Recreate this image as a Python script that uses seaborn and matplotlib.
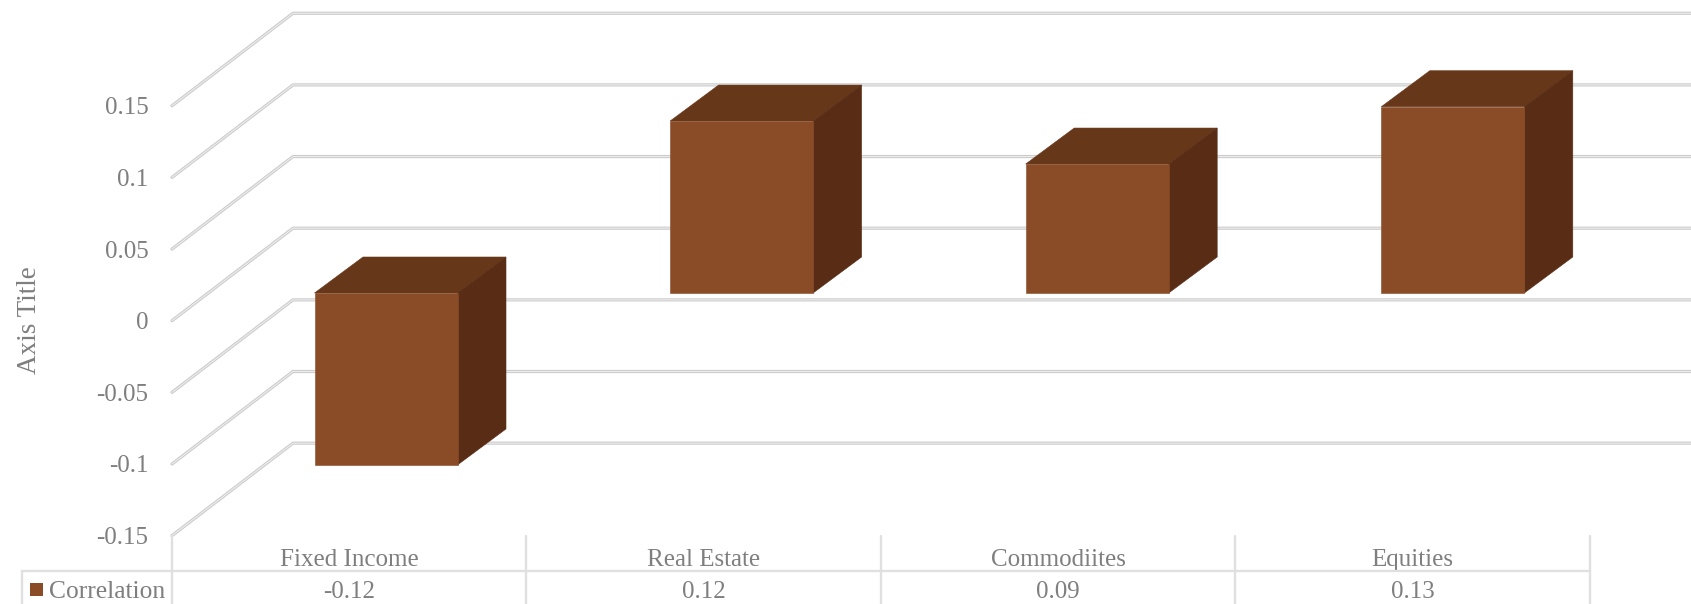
import matplotlib
matplotlib.use("Agg")
import matplotlib.pyplot as plt
from matplotlib.patches import Polygon, Rectangle
import pandas as pd
import seaborn as sns

categories = ["Fixed Income", "Real Estate", "Commodiites", "Equities"]
correlation = [-0.12, 0.12, 0.09, 0.13]
tick_values = [-0.15, -0.1, -0.05, 0, 0.05, 0.1, 0.15]
tick_labels = ["-0.15", "-0.1", "-0.05", "0", "0.05", "0.1", "0.15"]
series_name = "Correlation"
axis_title = "Axis Title"

W, H = 1691, 604
UX, UY = 354.5, 1433.0      # pixels per category / per unit of correlation
X0, Y0 = 349.0, 320.7       # pixel position of category 0 / value 0 on the front plane

FRONT, TOP, SIDE = "#8A4B27", "#67371A", "#592D15"
TEXT = "#7F7F7F"
GRID_DARK, GRID_LIGHT = "#CBCBCB", "#EDEDED"
TABLE = "#E0E0E0"


def dx(px):
    return px / UX


def dy(px):
    return px / UY


def px_x(p):
    return (p - X0) / UX


def px_y(p):
    return (Y0 - p) / UY


sns.set_theme(style="white")
plt.rcParams["font.family"] = ["Liberation Serif", "DejaVu Serif"]
FS = 18.0

fig = plt.figure(figsize=(W / 100, H / 100), dpi=100)
ax = fig.add_axes([0, 0, 1, 1])

df = pd.DataFrame({"Asset": categories, series_name: correlation})
sns.barplot(data=df, x="Asset", y=series_name, color=FRONT, saturation=1,
            width=143 / UX, ax=ax, zorder=4, linewidth=0)
ax.set_xlim(px_x(0), px_x(W))
ax.set_ylim(px_y(H), px_y(0))
ax.set_xlabel("")
ax.set_ylabel("")

# Bars stand part-way into the floor: slide the fronts back and add the two visible faces.
# Perspective spreads them a touch wider than the table columns below.
front_dx, front_dy = dx(37), dy(27.7)
bar_spread = dx(1.1)
depth_x, depth_y = dx(48.5), dy(36)
for i, (bar, value) in enumerate(zip(ax.patches, correlation)):
    bar.set_x(bar.get_x() + front_dx + i * bar_spread)
    bar.set_y(bar.get_y() + front_dy)
    bar.set_edgecolor(FRONT)
    bar.set_linewidth(0.4)
    left, right = bar.get_x(), bar.get_x() + bar.get_width()
    low = min(0, value) + front_dy
    high = max(0, value) + front_dy
    ax.add_patch(Polygon([(left, high), (right, high),
                          (right + depth_x, high + depth_y), (left + depth_x, high + depth_y)],
                         closed=True, facecolor=TOP, edgecolor=TOP, lw=0.4, zorder=3.9))
    ax.add_patch(Polygon([(right, low), (right, high),
                          (right + depth_x, high + depth_y), (right + depth_x, low + depth_y)],
                         closed=True, facecolor=SIDE, edgecolor=SIDE, lw=0.4, zorder=3.95))

# Gridlines run from the front axis across the side wall and along the back wall
wall_x = px_x(172)
back_dx, back_dy = dx(121), dy(92.5)
for v in tick_values:
    xs = [wall_x, wall_x + back_dx, px_x(W)]
    ys = [v, v + back_dy, v + back_dy]
    ax.plot(xs, ys, color=GRID_DARK, lw=2.3, zorder=1, solid_capstyle="round")
    ax.plot(xs, ys, color=GRID_LIGHT, lw=0.8, zorder=2)

# Value axis labels sit on an invisible spine left of the wall
ax.set_yticks(tick_values, tick_labels)
ax.spines["left"].set_position(("data", px_x(148.5)))
ax.tick_params(axis="y", length=0, pad=0, labelsize=FS, labelcolor=TEXT)

# Category labels form the header row of the data table
ax.set_xticks(range(len(categories)), categories)
ax.spines["bottom"].set_position(("data", px_y(549)))
ax.tick_params(axis="x", length=0, pad=0, labelsize=FS, labelcolor=TEXT)
for spine in ax.spines.values():
    spine.set_visible(False)

ax.text(px_x(30), px_y(320), axis_title, rotation=90, ha="center", va="center",
        fontsize=19.5, color=TEXT)

# Data table
col_edges = [i - 0.5 for i in range(len(categories) + 1)]
table_top = px_y(571)
for edge in col_edges:
    ax.plot([edge, edge], [px_y(535.5), px_y(H)], color=TABLE, lw=1.7, zorder=2)
ax.plot([px_x(21.5), col_edges[-1]], [table_top, table_top], color=TABLE, lw=1.7, zorder=2)
ax.plot([px_x(21.5), px_x(21.5)], [table_top, px_y(H)], color=TABLE, lw=1.7, zorder=2)
for i, value in enumerate(correlation):
    ax.text(i, px_y(589), f"{value:.2f}", ha="center", va="center_baseline",
            fontsize=FS, color=TEXT)
ax.add_patch(Rectangle((px_x(30), px_y(596)), dx(13.3), dy(13), facecolor=FRONT, edgecolor="none"))
ax.text(px_x(48.5), px_y(589), series_name, ha="left", va="center_baseline",
        fontsize=18.4, color=TEXT)

fig.savefig("out.png", dpi=100, facecolor="white")
